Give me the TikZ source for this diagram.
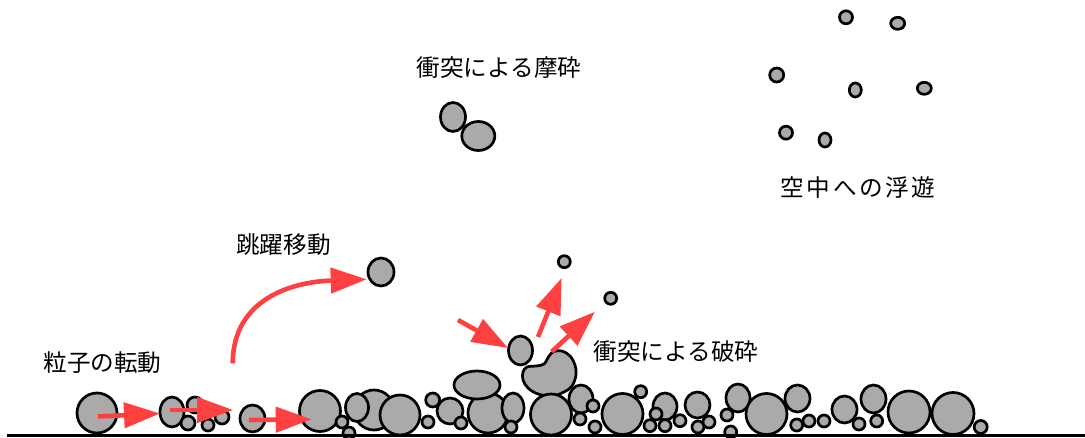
\documentclass[tikz,border=0pt]{standalone}
\usepackage{fontspec}
\newfontfamily\jpfont{Noto Sans CJK JP}
\usetikzlibrary{arrows.meta}
\definecolor{grainfill}{RGB}{170,170,170}
\definecolor{motionred}{RGB}{255,64,64}
\tikzset{
  grain/.style={fill=grainfill, draw=black, line width=2.7pt},
  motion/.style={draw=motionred, line width=4.6pt,
    -{Triangle[length=36pt,width=25pt]}},
  label/.style={font=\jpfont\fontsize{23.6}{26}\selectfont, anchor=base, inner sep=0pt},
  ground/.style={draw=black, line width=2.6pt}
}
% circle of radius r at (x,y)
\newcommand{\graincirc}[3]{\draw[grain] (#1,#2) circle[radius=#3pt];}
% ellipse with radii rx, ry at (x,y)
\newcommand{\grainell}[4]{\draw[grain] (#1,#2) ellipse[x radius=#3pt, y radius=#4pt];}
\begin{document}
\begin{tikzpicture}[x=1pt,y=-1pt]
\fill[white] (0,0) rectangle (1085,438);
\useasboundingbox (0,0) rectangle (1085,438);

% --- labels ---
\node[label] (lAbr)  at (499,76.7)   {衝突による摩砕};
\node[label] (lSusp) at (858,196.7)  {\addfontfeature{LetterSpace=11}空中への浮遊};
\node[label] (lSalt) at (283.5,253.7){跳躍移動};
\node[label] (lRoll) at (102.5,371.7){粒子の転動};
\node[label] (lFrag) at (676,360.7)  {衝突による破砕};

% --- suspended grains ---
\graincirc{846}{17.3}{6.5}
\grainell{897.7}{23.3}{7}{6}
\graincirc{776.7}{75}{7}
\grainell{855.3}{90}{6}{7}
\grainell{924.3}{88.3}{7}{6}
\graincirc{786}{132.7}{6.5}
\grainell{825}{140}{6}{7}

% --- abrasion pair ---
\grainell{453}{117}{12.5}{14.5}
\grainell{478.3}{136}{16.5}{14.5}

% --- saltating grain ---
\grainell{381}{272}{13}{14}

% --- fragments after impact ---
\graincirc{564.3}{261.7}{6}
\graincirc{610.7}{298.3}{6}
\grainell{520.5}{350.5}{12}{14.5}

% --- bed: rolling group ---
\graincirc{97}{413}{20}
\graincirc{195}{405}{8}
\grainell{172}{412}{12}{15}
\graincirc{188}{423}{7}
\graincirc{208}{425}{6}
\graincirc{222}{417}{7}
\grainell{252.5}{418.5}{12.5}{13.5}
\graincirc{320}{411}{20.5}
\graincirc{342}{422}{6}
\graincirc{349}{433}{6}

% --- bed: main pile ---
\graincirc{374}{410}{20}
\grainell{357}{407.5}{11.5}{14}
\graincirc{400}{415}{20}
\graincirc{432.7}{400}{7}
\graincirc{428}{422}{6}
\graincirc{450}{411}{13}
\graincirc{461}{423}{6}
\graincirc{488}{413}{20}
\grainell{477}{385}{23}{14}
\grainell{513}{408}{11}{15}
\graincirc{511}{427}{6}
% broken grain
\draw[grain] plot[smooth cycle, tension=0.6] coordinates {
  (549,356) (554,351.5) (562,351) (570,356) (575,365) (576,375)
  (572,386) (564,392) (552,396) (538,394) (528,388) (523,380)
  (523,372) (527,367) (536,366) (544,364)};
\graincirc{551}{414.5}{20.5}
\grainell{581}{399}{12}{14}
\graincirc{593}{406}{6}
\graincirc{580}{419}{6}
\graincirc{595}{427}{6}
\graincirc{622.5}{414}{20.5}
\graincirc{640.7}{391.7}{6}
\grainell{665}{406.5}{12}{13.5}
\graincirc{656}{414}{6}
\graincirc{650}{425.7}{6}
\graincirc{665}{425.7}{6}
\graincirc{680}{420.7}{6}
\grainell{697.5}{405}{12.5}{13}
\graincirc{698}{427}{6}
\graincirc{709}{422}{6}
\graincirc{727}{415}{6}
\graincirc{730.7}{432}{6}
\grainell{738}{398}{12}{14}
\graincirc{766.5}{414}{20.5}
\grainell{797.5}{398.5}{12.5}{13.5}
\graincirc{796.7}{425}{6}
\graincirc{809}{421}{6}
\graincirc{824}{421}{6}
\grainell{844.5}{409.5}{12.5}{13.5}
\graincirc{859}{424}{6}
\grainell{873.5}{399}{12.5}{14}
\graincirc{876.7}{421}{6}
\graincirc{909}{412}{21}
\graincirc{953}{413.5}{21}
\graincirc{980.7}{427}{6.5}

% --- ground ---
\coordinate (gL) at (7,435.7);
\coordinate (gR) at (1085,435.7);
\draw[ground] (gL) -- (gR);

% --- motion arrows ---
\coordinate (r1a) at (98,416.5);   \coordinate (r1b) at (160,413.5);
\coordinate (r2a) at (170,410);    \coordinate (r2b) at (233,410);
\coordinate (r3a) at (249,420);    \coordinate (r3b) at (311.7,419.3);
\draw[motion] (r1a) -- (r1b);
\draw[motion] (r2a) -- (r2b);
\draw[motion] (r3a) -- (r3b);

\coordinate (jA) at (232.7,363.3); \coordinate (jB) at (366.7,279.3);
\draw[motion] (jA) .. controls (233,300) and (290,282) .. (jB);

\coordinate (iA) at (458,320);     \coordinate (iB) at (508,348);
\draw[motion] (iA) -- (iB);
\coordinate (uA) at (538,337);     \coordinate (uB) at (561.7,278);
\draw[motion] (uA) -- (uB);
\coordinate (sA) at (551.7,351.7); \coordinate (sB) at (595,311.7);
\draw[motion] (sA) -- (sB);
\end{tikzpicture}
\end{document}
